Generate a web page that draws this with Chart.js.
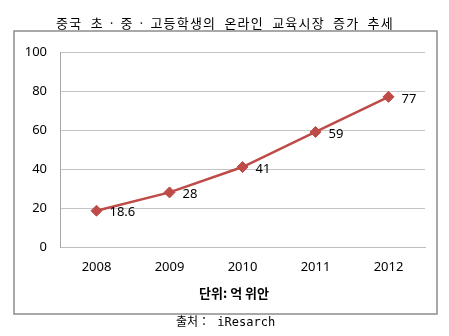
<!DOCTYPE html>
<html>
<head>
<meta charset="utf-8">
<script src="https://cdn.jsdelivr.net/npm/chart.js@4/dist/chart.umd.min.js"></script>
<style>
  body { margin: 0; background: #fff; }
  #wrap { width: 449px; height: 336px; }
</style>
</head>
<body>
<div id="wrap"><canvas id="c" width="449" height="336"></canvas></div>
<script>
// DATA
const years = ["2008", "2009", "2010", "2011", "2012"];
const market = [18.6, 28, 41, 59, 77];
const marketLabels = ["18.6", "28", "41", "59", "77"];
const yTicks = [0, 20, 40, 60, 80, 100];

const titleText = "중국  초 · 중 · 고등학생의  온라인  교육시장  증가  추세";
const unitText = "단위: 억 위안";
const sourceText = "출처： iResarch";

const RED = "#be4b48";

// frame, title, unit and source text
const decor = {
  id: "decor",
  beforeDraw(chart) {
    const ctx = chart.ctx;
    ctx.save();
    ctx.fillStyle = "#fff";
    ctx.fillRect(0, 0, chart.width, chart.height);
    ctx.strokeStyle = "#8c8c8c";
    ctx.lineWidth = 1.5;
    ctx.strokeRect(14, 31, 423, 283);

    ctx.fillStyle = "#000";
    ctx.textBaseline = "middle";
    ctx.textAlign = "center";
    ctx.font = '13px "Noto Sans CJK KR"';
    ctx.letterSpacing = "1.2px";
    ctx.fillText(titleText, 225, 23);
    ctx.letterSpacing = "0px";

    ctx.font = 'bold 13px "Noto Sans CJK KR"';
    ctx.fillText(unitText, 234, 293);

    ctx.textAlign = "left";
    ctx.font = '12px "DejaVu Sans Mono", "Noto Sans CJK KR"';
    ctx.fillText(sourceText, 176, 323);
    ctx.restore();
  },
  afterDatasetsDraw(chart) {
    const ctx = chart.ctx;
    const meta = chart.getDatasetMeta(0);
    ctx.save();
    ctx.fillStyle = "#000";
    ctx.font = '13px "Noto Sans"';
    ctx.textAlign = "left";
    ctx.textBaseline = "middle";
    meta.data.forEach((pt, i) => {
      ctx.fillText(marketLabels[i], pt.x + 13, pt.y + 2);
    });
    ctx.restore();
  }
};

new Chart(document.getElementById("c"), {
  type: "line",
  data: {
    labels: years,
    datasets: [{
      data: market,
      borderColor: RED,
      backgroundColor: RED,
      borderWidth: 2.5,
      pointStyle: "rectRot",
      pointRadius: 5.5,
      pointBorderWidth: 1,
      tension: 0
    }]
  },
  options: {
    responsive: false,
    animation: false,
    layout: { padding: { left: 0, top: 52, right: 24, bottom: 0 } },
    plugins: {
      legend: { display: false },
      tooltip: { enabled: false }
    },
    scales: {
      x: {
        offset: true,
        grid: { display: false, drawTicks: false },
        border: { display: true, color: "#bfbfbf" },
        ticks: { color: "#000", font: { family: "Noto Sans", size: 13 }, padding: 12 },
        afterFit(s) { s.height = 89; }
      },
      y: {
        min: 0,
        max: 100,
        afterBuildTicks(s) { s.ticks = yTicks.map(v => ({ value: v })); },
        grid: { color: "#c4c4c4", drawTicks: false },
        border: { display: true, color: "#a6a6a6" },
        ticks: { color: "#000", font: { family: "Noto Sans", size: 13 }, padding: 13 },
        afterFit(s) { s.width = 60; }
      }
    }
  },
  plugins: [decor]
});
</script>
</body>
</html>
